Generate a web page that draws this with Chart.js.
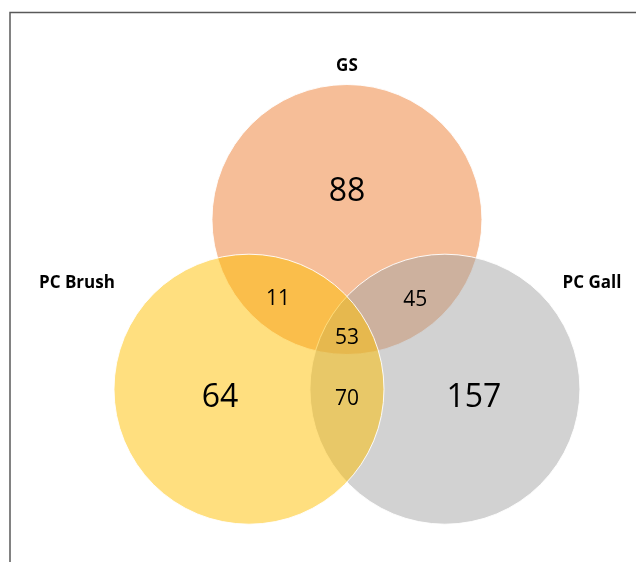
<!DOCTYPE html>
<html>
<head>
<meta charset="utf-8">
<script src="https://cdn.jsdelivr.net/npm/chart.js@4/dist/chart.umd.min.js"></script>
<style>
  html, body { margin: 0; padding: 0; background: #fff; }
  #venn { display: block; }
</style>
</head>
<body>
<canvas id="venn" width="636" height="562"></canvas>
<script>
// sets and counts
const sets = ["GS", "PC Brush", "PC Gall"];
const setColors = ["rgba(237,125,49,0.5)", "rgba(255,192,0,0.5)", "rgba(165,165,165,0.5)"];
const regions = ["GS only", "PC Brush only", "PC Gall only", "GS & PC Brush", "GS & PC Gall", "PC Brush & PC Gall", "all three"];
const counts = [88, 64, 157, 11, 45, 70, 53];

// layout (units of one circle radius, origin at the centroid of the three centres)
const CENTER_DIST = 0.838;            // centroid -> circle centre
const SET_ANGLES = [90, 210, 330];    // GS top, Brush lower left, Gall lower right
const SET_ORDER = [3, 1, 2];          // GS at bottom, Brush on top
const regionPos = [
  [0, 1.04], [-0.94, -0.485], [0.94, -0.485],
  [-0.51, 0.25], [0.505, 0.245], [0, -0.495], [0, -0.04]
];
const regionFont = [32, 32, 32, 21, 21, 21, 21];
const setLabelPos = [[0, 1.975], [-2.0, 0.37], [1.815, 0.37]];

const FONT = "'Open Sans', 'Noto Sans', sans-serif";

const centres = SET_ANGLES.map(a => ({
  x: CENTER_DIST * Math.cos(a * Math.PI / 180),
  y: CENTER_DIST * Math.sin(a * Math.PI / 180)
}));

// radius of 1 unit in pixels, taken from the x scale
function unitPx(chart) {
  const s = chart.scales && chart.scales.x;
  if (!s) return 0;
  return s.getPixelForValue(1) - s.getPixelForValue(0);
}

const Frame = {
  id: "frame",
  beforeDraw(chart) {
    const { ctx } = chart;
    ctx.save();
    ctx.strokeStyle = "#595959";
    ctx.lineWidth = 1.5;
    ctx.beginPath();
    ctx.moveTo(10, 700);
    ctx.lineTo(10, 12.5);
    ctx.lineTo(700, 12.5);
    ctx.stroke();
    ctx.restore();
  }
};

const VennLabels = {
  id: "vennLabels",
  afterDatasetsDraw(chart) {
    const { ctx, scales: { x, y } } = chart;
    ctx.save();
    ctx.textAlign = "center";
    ctx.textBaseline = "middle";
    ctx.fillStyle = "#000";

    counts.forEach((v, i) => {
      ctx.font = `${regionFont[i]}px ${FONT}`;
      ctx.fillText(String(v), x.getPixelForValue(regionPos[i][0]), y.getPixelForValue(regionPos[i][1]));
    });

    ctx.font = `bold 17px ${FONT}`;
    sets.forEach((s, i) => {
      ctx.fillText(s, x.getPixelForValue(setLabelPos[i][0]), y.getPixelForValue(setLabelPos[i][1]));
    });
    ctx.restore();
  }
};

new Chart(document.getElementById("venn"), {
  type: "scatter",
  data: {
    datasets: sets.map((s, i) => ({
      label: s,
      data: [{ x: centres[i].x, y: centres[i].y }],
      showLine: false,
      pointBackgroundColor: setColors[i],
      pointBorderColor: "rgba(255,255,255,0.9)",
      pointBorderWidth: 1,
      pointRadius: (c) => unitPx(c.chart),
      order: SET_ORDER[i],
      clip: false
    }))
  },
  options: {
    responsive: false,
    animation: false,
    events: [],
    devicePixelRatio: 1,
    layout: { padding: 0, autoPadding: false },
    scales: {
      x: { type: "linear", min: -2.570, max: 2.141, display: false },
      y: { type: "linear", min: -1.699, max: 2.464, display: false }
    },
    plugins: {
      legend: { display: false },
      tooltip: { enabled: false }
    }
  },
  plugins: [Frame, VennLabels]
});
</script>
</body>
</html>
